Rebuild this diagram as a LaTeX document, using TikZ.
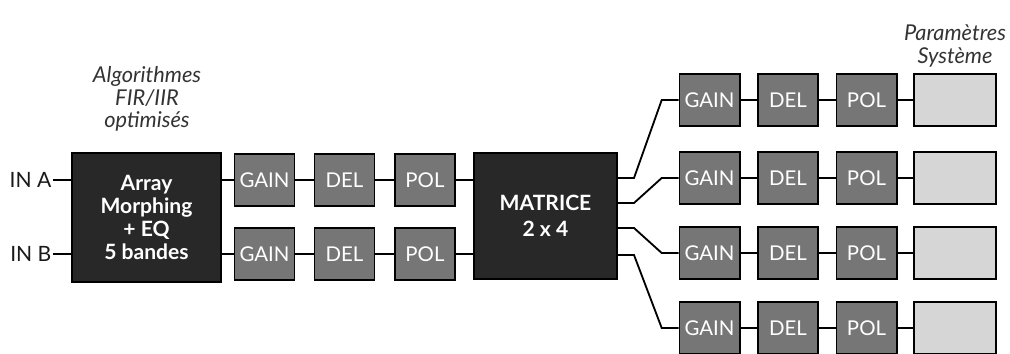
\documentclass[tikz,border=0pt]{standalone}
\usepackage{fontspec}
\setmainfont{Lato}
\usetikzlibrary{positioning}
\definecolor{blockdark}{RGB}{40,40,40}
\definecolor{blockmid}{RGB}{118,118,118}
\definecolor{blocklight}{RGB}{214,214,214}

\begin{document}
\begin{tikzpicture}[x=0.025cm,y=-0.025cm,line join=miter,
  wire/.style={black,line width=1.3pt},
  bigblk/.style={draw=black,line width=1.4pt,fill=blockdark,text=white,font=\fontsize{15}{16.5}\selectfont\bfseries,align=center,inner sep=0pt},
  blk/.style={draw=black,line width=1.4pt,fill=blockmid,text=white,font=\fontsize{14.5}{17}\selectfont,minimum width=1.5cm,minimum height=1.3cm,inner sep=0pt},
  sysblk/.style={draw=black,line width=1.4pt,fill=blocklight,minimum width=2.05cm,minimum height=1.3cm,inner sep=0pt},
  note/.style={font=\fontsize{15.5}{16}\selectfont\itshape,text=black!80,align=center},
  inlabel/.style={font=\fontsize{15}{17}\selectfont,text=black!90,anchor=east,inner sep=1pt}]
\useasboundingbox (0,0) rectangle (1010,354);
% entree : traitement des deux voies
\node[bigblk,minimum width=3.72cm,minimum height=3.22cm] (algo) at (146.5,217.5) {Array\\ Morphing\\ + EQ\\ 5 bandes};
\node[note] (algonote) at (147,99) {Algorithmes\\ FIR/IIR\\ optimisés};
\node[inlabel] (ina) at (53,180) {IN A};
\node[inlabel] (inb) at (53,254) {IN B};
\draw[wire] (ina.east) -- (ina.east -| algo.west);
\draw[wire] (inb.east) -- (inb.east -| algo.west);
% voies A et B
\node[blk] (gaina) at (264.5,180) {GAIN};
\node[blk] (dela) at (344.5,180) {DEL};
\node[blk] (pola) at (425,180) {POL};
\node[blk] (gainb) at (264.5,254) {GAIN};
\node[blk] (delb) at (344.5,254) {DEL};
\node[blk] (polb) at (425,254) {POL};
\node[bigblk,minimum width=3.58cm,minimum height=3.15cm] (matrice) at (545.5,216) {MATRICE\\[2pt] 2 x 4};
\draw[wire] (gaina.west -| algo.east) -- (gaina) -- (dela) -- (pola) -- (pola.east -| matrice.west);
\draw[wire] (gainb.west -| algo.east) -- (gainb) -- (delb) -- (polb) -- (polb.east -| matrice.west);
% sorties : quatre voies
\foreach \row/\y in {1/100,2/178,3/253,4/328}{
  \node[blk] (gain\row) at (709.5,\y) {GAIN};
  \node[blk] (del\row) at (788,\y) {DEL};
  \node[blk] (pol\row) at (866.5,\y) {POL};
  \node[sysblk] (sys\row) at (955,\y) {};
  \draw[wire] (gain\row) -- (del\row) -- (pol\row) -- (sys\row);
}
\node[note] (sysnote) at (955,46) {Paramètres\\ Système};
\coordinate (out1) at (618,178);
\coordinate (out2) at (618,203);
\coordinate (out3) at (618,228);
\coordinate (out4) at (618,255);
\foreach \row in {1,...,4}{
  \draw[wire] (out\row) -- ++(16,0) -- ([xshift=-0.42cm]gain\row.west) -- (gain\row.west);
}
\end{tikzpicture}
\end{document}
